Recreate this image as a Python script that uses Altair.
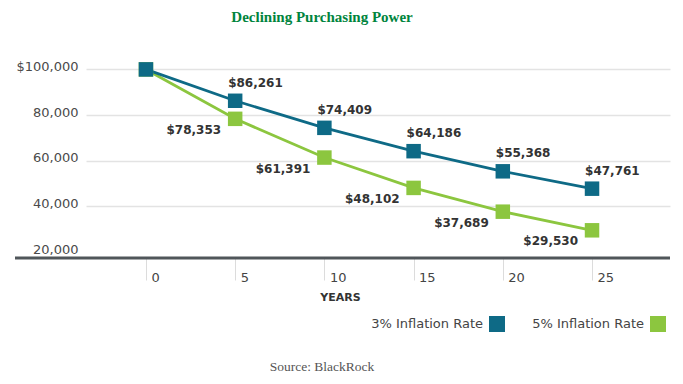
import altair as alt
import pandas as pd

years = [0, 5, 10, 15, 20, 25]
rate3 = [100000, 86261, 74409, 64186, 55368, 47761]
rate5 = [100000, 78353, 61391, 48102, 37689, 29530]
series = ["3% Inflation Rate", "5% Inflation Rate"]
colors = ["#0e6a86", "#8cc63f"]
y_ticks = [20000, 40000, 60000, 80000, 100000]
x_ticks = [0, 5, 10, 15, 20, 25]
title_text = "Declining Purchasing Power"
source_text = ["Source: BlackRock"]

rows = []
for yr, v in zip(years, rate5):
    rows.append({"year": yr, "value": v, "series": series[1]})
for yr, v in zip(years, rate3):
    rows.append({"year": yr, "value": v, "series": series[0]})
df = pd.DataFrame(rows)

W, H = 584, 200
x_dom = [-3.36, 29.37]
y_dom = [17400, 105000]

x_enc = alt.X(
    "year:Q",
    scale=alt.Scale(domain=x_dom, nice=False, zero=False),
    axis=alt.Axis(
        values=x_ticks, domain=False, grid=False, ticks=True, tickSize=22,
        tickColor="#dcdcdc", tickWidth=1, labelAlign="left", labelBaseline="middle",
        labelPadding={"expr": "-3"}, labelOffset=5, labelOverlap=False, labelFont="DejaVu Sans",
        labelFontSize=13, labelColor="#444", title="YEARS", titleFont="DejaVu Sans",
        titleFontSize=11, titleFontWeight="bold", titleColor="#333", titleX=254,
        titleY=39, titleBaseline="middle", titleAlign="center",
    ),
)
y_enc = alt.Y(
    "value:Q",
    scale=alt.Scale(domain=y_dom, nice=False, zero=False),
    axis=alt.Axis(
        values=y_ticks, domain=False, ticks=False, grid=True, gridColor="#e3e3e3",
        gridWidth=1.5,
        gridOpacity=alt.condition("datum.value == 20000", alt.value(0), alt.value(1)),
        labelExpr="datum.value == 100000 ? '$100,000' : format(datum.value, ',')",
        labelPadding=8, labelOffset={"expr": "-3"}, labelFont="DejaVu Sans", labelFontSize=13,
        labelColor="#4a4a4a", labelBaseline="middle", title=None,
    ),
)

legend = alt.Legend(
    title=None, orient="none", legendX=403, legendY=258, direction="horizontal",
    symbolType="square", symbolSize=256, symbolStrokeWidth=0, symbolOpacity=1,
    labelAlign="right", labelOffset={"expr": "-22"}, labelFont="DejaVu Sans",
    labelFontSize=13, labelColor="#444", columnPadding=27,
)
color = alt.Color("series:N", scale=alt.Scale(domain=series, range=colors), legend=legend)

base = alt.Chart(df)

axis_line = alt.Chart(pd.DataFrame({"value": [y_dom[0]]})).mark_rule(
    color="#50565a", strokeWidth=3
).encode(y="value:Q", x=alt.value(-71), x2=alt.value(W))

lines = base.mark_line(strokeWidth=2.8).encode(
    x=x_enc, y=y_enc, color=color, detail="series:N",
)

points = base.mark_point(shape="square", filled=True, size=210, opacity=1).encode(
    x="year:Q", y="value:Q", color=color,
)

lab = base.transform_filter("datum.year > 0").transform_calculate(
    label="'$' + format(datum.value, ',')"
)
t3 = lab.transform_filter(f"datum.series == '{series[0]}'").mark_text(
    align="left", baseline="middle", dx=-7, dy=-18, font="DejaVu Sans",
    fontSize=12, fontWeight="bold", color="#333"
).encode(x="year:Q", y="value:Q", text="label:N")
t5 = lab.transform_filter(f"datum.series == '{series[1]}'").mark_text(
    align="right", baseline="middle", dx=-14, dy=11, font="DejaVu Sans",
    fontSize=12, fontWeight="bold", color="#333"
).encode(x="year:Q", y="value:Q", text="label:N")

source = alt.Chart(pd.DataFrame({"t": source_text})).mark_text(
    font="Liberation Serif", fontSize=13.5, color="#555", align="center", baseline="middle"
).encode(x=alt.value(236), y=alt.value(309), text="t:N")

chart = alt.layer(axis_line, lines, points, t3, t5, source).properties(
    width=W, height=H,
    title=alt.TitleParams(
        title_text, font="Liberation Serif", fontSize=15, fontWeight="bold",
        color="#00843d", anchor="middle", dx=-56, offset=33,
    ),
    autosize=alt.AutoSizeParams(type="none"),
    padding={"left": 78, "top": 50, "right": 5, "bottom": 118},
    background="white",
).configure_view(stroke=None)

chart.save("out.html", embed_options={"renderer": "svg", "actions": False})
